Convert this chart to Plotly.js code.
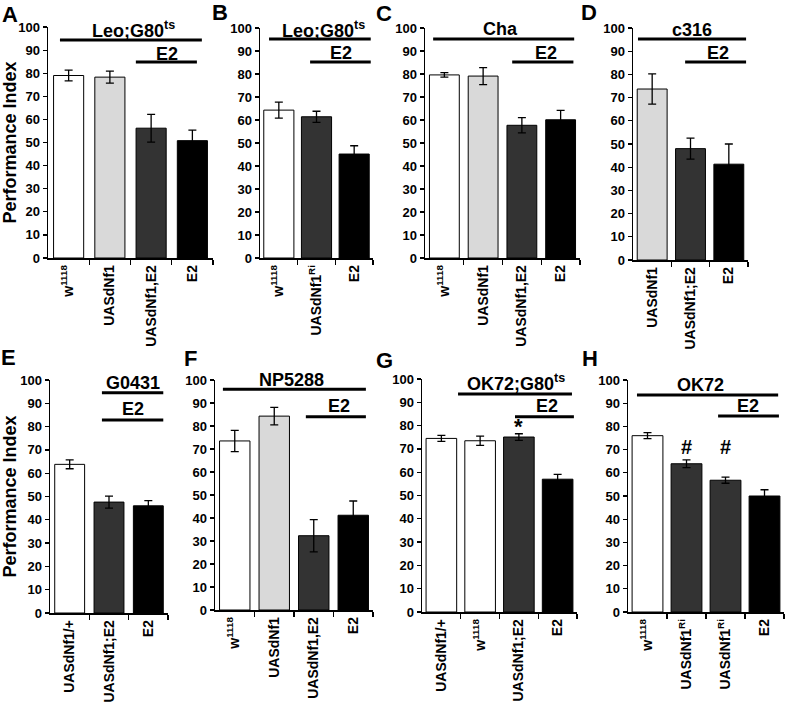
<!DOCTYPE html>
<html>
<head>
<meta charset="utf-8">
<script src="https://cdn.plot.ly/plotly-3.0.1.min.js"></script>
<style>html,body{margin:0;padding:0;background:#fff;}#chart{width:787px;height:710px;}</style>
</head>
<body>
<div id="chart"></div>
<script>
// ---------- DATA ----------
const catsA = ['w<sup>1118</sup>', 'UASdNf1', 'UASdNf1,E2', 'E2'];
const valsA = [79.0, 78.3, 56.2, 50.8];
const errA  = [2.3, 2.6, 6.0, 4.6];

const catsB = ['w<sup>1118</sup>', 'UASdNf1<sup>Ri</sup>', 'E2'];
const valsB = [64.3, 61.4, 45.2];
const errB  = [3.5, 2.4, 3.6];

const catsC = ['w<sup>1118</sup>', 'UASdNf1', 'UASdNf1,E2', 'E2'];
const valsC = [79.6, 79.1, 57.7, 60.1];
const errC  = [1.0, 3.7, 3.3, 4.1];

const catsD = ['UASdNf1', 'UASdNf1;E2', 'E2'];
const valsD = [73.7, 48.0, 41.3];
const errD  = [6.5, 4.5, 8.7];

const catsE = ['UASdNf1/+', 'UASdNf1;E2', 'E2'];
const valsE = [63.8, 47.6, 46.0];
const errE  = [1.9, 2.6, 2.2];

const catsF = ['w<sup>1118</sup>', 'UASdNf1', 'UASdNf1,E2', 'E2'];
const valsF = [73.5, 84.3, 32.3, 41.2];
const errF  = [4.6, 3.8, 7.0, 6.2];

const catsG = ['UASdNf1/+', 'w<sup>1118</sup>', 'UASdNf1;E2', 'E2'];
const valsG = [74.5, 73.5, 75.1, 57.0];
const errG  = [1.3, 2.0, 1.4, 2.1];

const catsH = ['w<sup>1118</sup>', 'UASdNf1<sup>Ri</sup>', 'UASdNf1<sup>Ri</sup>', 'E2'];
const valsH = [76.0, 63.9, 56.8, 50.0];
const errH  = [1.3, 1.7, 1.3, 2.7];

const panelLetters = ['A', 'B', 'C', 'D', 'E', 'F', 'G', 'H'];
const groupLabels = ['Leo;G80<sup>ts</sup>', 'Leo;G80<sup>ts</sup>', 'Cha', 'c316', 'G0431', 'NP5288', 'OK72;G80<sup>ts</sup>', 'OK72'];
const subLabel = 'E2';
const yTitle = 'Performance Index';

// ---------- STYLE / GEOMETRY ----------
const W = 787, H = 710;
const WHITE = '#ffffff', LIGHT = '#d9d9d9', DARK = '#333333', BLACK = '#000000';
const FONT = 'Liberation Sans, Arial, sans-serif';

const panels = [
  {cats: catsA, vals: valsA, err: errA, colors: [WHITE, LIGHT, DARK, BLACK], box: [48, 213, 27, 258], bw: 0.73,
   top: [-0.21, 3.23, 94.4], topText: [133, 30], sub: [1.63, 3.11, 84.8], subText: [167, 54], letter: [10, 15], title: true},
  {cats: catsB, vals: valsB, err: errB, colors: [WHITE, DARK, BLACK], box: [260, 373, 28, 258], bw: 0.8,
   top: [-0.26, 2.44, 95.2], topText: [323, 30], sub: [0.83, 2.44, 85.2], subText: [341, 53], letter: [220, 13]},
  {cats: catsC, vals: valsC, err: errC, colors: [WHITE, LIGHT, DARK, BLACK], box: [425, 580, 28, 258], bw: 0.77,
   top: [-0.29, 3.35, 95.2], topText: [500, 29], sub: [1.75, 3.33, 85.2], subText: [546, 53], letter: [384, 14]},
  {cats: catsD, vals: valsD, err: errD, colors: [LIGHT, DARK, BLACK], box: [633, 748, 28, 260], bw: 0.78,
   top: [-0.37, 2.45, 95.3], topText: [692, 30], sub: [0.86, 2.45, 85.3], subText: [718, 53], letter: [589, 13]},
  {cats: catsE, vals: valsE, err: errE, colors: [WHITE, DARK, BLACK], box: [50, 168, 380, 613], bw: 0.76,
   top: [0.82, 2.38, 94.5], topText: [133, 383], sub: [0.82, 2.38, 82.8], subText: [133, 409], letter: [8, 357], title: true},
  {cats: catsF, vals: valsF, err: errF, colors: [WHITE, LIGHT, DARK, BLACK], box: [215, 373, 380, 610], bw: 0.77,
   top: [-0.30, 3.32, 96.0], topText: [291, 380], sub: [1.80, 3.32, 84.0], subText: [339, 406], letter: [190, 358]},
  {cats: catsG, vals: valsG, err: errG, colors: [WHITE, WHITE, DARK, BLACK], box: [422, 577, 379, 612], bw: 0.79,
   top: [0.43, 3.37, 93.6], topText: [516, 383], sub: [1.9, 3.42, 83.8], subText: [547, 406], letter: [384, 360],
   marks: [{i: 2, text: '*', y: 79.8}]},
  {cats: catsH, vals: valsH, err: errH, colors: [WHITE, DARK, DARK, BLACK], box: [628, 784, 380, 612], bw: 0.79,
   top: [-0.27, 3.35, 93.5], topText: [700, 385], sub: [1.81, 3.37, 84.5], subText: [748, 406], letter: [590, 358],
   marks: [{i: 1, text: '#', y: 71}, {i: 2, text: '#', y: 71}]}
];

const data = [];
const layout = {
  width: W, height: H,
  margin: {l: 0, r: 0, t: 0, b: 0},
  paper_bgcolor: '#fff', plot_bgcolor: 'rgba(0,0,0,0)',
  showlegend: false,
  font: {family: FONT, color: '#000'},
  shapes: [], annotations: []
};

panels.forEach((p, k) => {
  const n = k + 1;
  const xa = 'x' + n, ya = 'y' + n;
  const idx = p.cats.map((_, i) => i);
  data.push({
    type: 'bar', x: idx, y: p.vals, xaxis: xa, yaxis: ya,
    width: p.bw,
    marker: {color: p.colors, line: {color: '#000', width: 1}},
    error_y: {type: 'data', array: p.err, visible: true, color: '#000', thickness: 1.3, width: 4},
    hoverinfo: 'skip', cliponaxis: false
  });
  const [x0, x1, y0, y1] = p.box;
  const bounds = idx.map(i => i + 0.5);
  layout['xaxis' + (n > 1 ? n : '')] = {
    domain: [x0 / W, x1 / W], anchor: ya,
    range: [-0.5, p.cats.length - 0.5],
    tickvals: idx, ticktext: p.cats, tickangle: -90, ticks: '',
    tickfont: {family: FONT, size: 14, color: '#000', weight: 'bold'},
    showline: true, linecolor: '#000', linewidth: 1.5, showgrid: false, zeroline: false,
    minor: {tickvals: bounds, ticks: 'outside', ticklen: 5, tickwidth: 1.2, tickcolor: '#000', showgrid: false},
    fixedrange: true
  };
  const yax = {
    domain: [1 - y1 / H, 1 - y0 / H], anchor: xa,
    range: [0, 100], dtick: 10, tick0: 0,
    ticks: 'outside', ticklen: 4, tickwidth: 1.2, tickcolor: '#000',
    tickfont: {family: FONT, size: 13, color: '#000', weight: 'bold'},
    showline: true, linecolor: '#000', linewidth: 1.5, showgrid: false, zeroline: false,
    fixedrange: true
  };
  if (p.title) {
    yax.title = {text: yTitle, font: {family: FONT, size: 18, color: '#000', weight: 'bold'}, standoff: 4};
  }
  layout['yaxis' + (n > 1 ? n : '')] = yax;

  // group lines
  layout.shapes.push({type: 'line', xref: xa, yref: ya, x0: p.top[0], x1: p.top[1], y0: p.top[2], y1: p.top[2], line: {color: '#000', width: 3}});
  layout.shapes.push({type: 'line', xref: xa, yref: ya, x0: p.sub[0], x1: p.sub[1], y0: p.sub[2], y1: p.sub[2], line: {color: '#000', width: 3}});
  // group labels (paper px)
  layout.annotations.push({xref: 'paper', yref: 'paper', x: p.topText[0] / W, y: 1 - p.topText[1] / H, xanchor: 'center', yanchor: 'middle',
    text: groupLabels[k], showarrow: false, font: {family: FONT, size: 18, color: '#000', weight: 'bold'}});
  layout.annotations.push({xref: 'paper', yref: 'paper', x: p.subText[0] / W, y: 1 - p.subText[1] / H, xanchor: 'center', yanchor: 'middle',
    text: subLabel, showarrow: false, font: {family: FONT, size: 18, color: '#000', weight: 'bold'}});
  // panel letter
  layout.annotations.push({xref: 'paper', yref: 'paper', x: p.letter[0] / W, y: 1 - p.letter[1] / H, xanchor: 'center', yanchor: 'middle',
    text: panelLetters[k], showarrow: false, font: {family: FONT, size: 22, color: '#000', weight: 'bold'}});
  // significance marks
  (p.marks || []).forEach(m => {
    layout.annotations.push({xref: xa, yref: ya, x: m.i, y: m.y, xanchor: 'center', yanchor: 'middle',
      text: m.text, showarrow: false, font: {family: FONT, size: m.text === '*' ? 22 : 20, color: '#000', weight: 'bold'}});
  });
});

Plotly.newPlot('chart', data, layout, {staticPlot: true, displayModeBar: false});
</script>
</body>
</html>
